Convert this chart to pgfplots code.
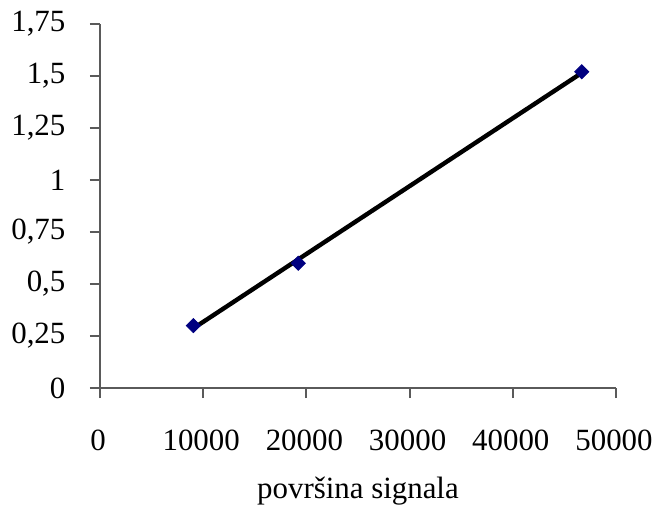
\documentclass[border=0pt]{standalone}
\usepackage{fontspec}
\setmainfont{Liberation Serif}
\usepackage{pgfplots}
\usepackage{pgfplotstable}
\pgfplotsset{compat=1.18}
\definecolor{navymark}{HTML}{000080}
\definecolor{axgray}{HTML}{5A5A5A}
\pgfplotstableread{
x y
9040 0.30
19215 0.60
46680 1.52
}\datatable
\begin{document}
\begin{tikzpicture}
\useasboundingbox (-50bp,-59bp) rectangle (277bp,194bp);
\begin{axis}[
  at={(0,0)}, anchor=south west,
  scale only axis,
  width=258bp, height=182bp,
  xmin=0, xmax=50000, ymin=0, ymax=1.75,
  axis lines*=left,
  axis line style={axgray, line width=1bp, -},
  xtick={0,10000,...,50000},
  ytick={0,0.25,...,1.75},
  tick style={axgray, line width=1bp},
  tick align=outside,
  major tick length=5bp,
  scaled x ticks=false,
  /pgf/number format/assume math mode=true,
  /pgf/number format/use comma,
  /pgf/number format/1000 sep={},
  tick label style={font=\fontsize{15.5}{18}\selectfont, text=black},
  xticklabel style={yshift=-12.3bp, xshift=-1bp},
  yticklabel style={xshift=-8.8bp},
  xlabel={površina signala},
  xlabel style={font=\fontsize{15.5}{18}\selectfont, at={(axis description cs:0.5,0)}, anchor=base, yshift=-55bp},
  clip=false,
]
\addplot[black, line width=2.2bp, no marks] table[x=x, y={create col/linear regression={y=y}}] {\datatable};
\addplot[only marks, mark=square*, mark size=2.5bp, mark options={rotate=45, fill=navymark, draw=navymark}] table[x=x,y=y] {\datatable};
\end{axis}
\end{tikzpicture}
\end{document}
